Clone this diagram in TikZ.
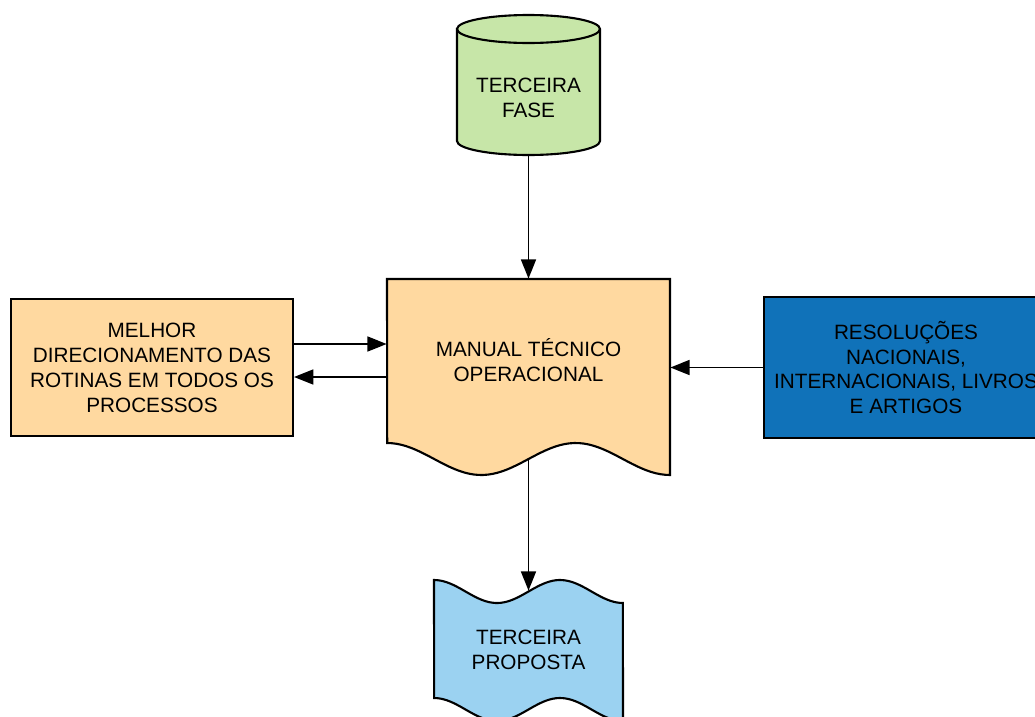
\documentclass[tikz,border=0pt]{standalone}
\usepackage{fontspec}
\setmainfont{Liberation Sans}
\usetikzlibrary{arrows.meta}

\definecolor{verde}{RGB}{199,230,168}
\definecolor{laranja}{RGB}{255,217,160}
\definecolor{azul}{RGB}{16,114,185}
\definecolor{azulclaro}{RGB}{155,210,241}

\begin{document}
\begin{tikzpicture}[x=0.02cm, y=-0.02cm,
    forma/.style={draw=black, line width=1.2pt},
    texto/.style={align=center, inner sep=0pt, text=black,
      font=\fontsize{11.8}{14.2}\selectfont},
    caixa/.style={forma, texto},
    seta/.style={-{Triangle[length=11pt,width=8.5pt]}, line width=1.1pt}]
  \useasboundingbox (0,0) rectangle (1035,717);
  \clip (0,0) rectangle (1035,717);

  % cylinder
  \draw[forma, fill=verde] (457,29) -- (457,141)
    arc[start angle=180, end angle=360, x radius=1.43cm, y radius=0.28cm]
    -- (600,29)
    arc[start angle=0, end angle=180, x radius=1.43cm, y radius=0.28cm] -- cycle;
  \draw[forma] (457,29)
    arc[start angle=180, end angle=360, x radius=1.43cm, y radius=0.28cm];

  % document with wavy bottom
  \draw[forma, fill=laranja] (387,279) -- (670,279) -- (670,475)
    -- plot[domain=1:0, samples=60] ({387+283*\x}, {443+16*(1-cos(540*\x))})
    -- cycle;

  % tape
  \draw[forma, fill=azulclaro]
    plot[domain=0:1, samples=60] ({434+189*\x}, {580+11.5*(1-cos(540*\x))})
    -- plot[domain=1:0, samples=60] ({434+189*\x}, {698+11.5*(1-cos(540*\x))})
    -- cycle;

  \node[texto, minimum width=2.86cm, minimum height=2.28cm] (fase) at (528.5,98)
    {TERCEIRA\\FASE};
  \node[texto, minimum width=5.66cm, minimum height=3.24cm] (manual) at (528.5,360)
    {MANUAL TÉCNICO\\OPERACIONAL};
  \coordinate (manualbase) at (528.5,459);
  \node[texto, minimum width=3.78cm, minimum height=2.36cm] (proposta) at (528.5,650)
    {TERCEIRA\\PROPOSTA};

  \node[caixa, fill=laranja, minimum width=5.64cm, minimum height=2.74cm] (melhor)
    at (152,367.5) {MELHOR\\DIRECIONAMENTO DAS\\ROTINAS EM TODOS OS\\PROCESSOS};
  \node[caixa, fill=azul, minimum width=5.68cm, minimum height=2.82cm] (resol)
    at (906,367.5) {RESOLUÇÕES\\NACIONAIS,\\INTERNACIONAIS, LIVROS\\E ARTIGOS};

  \draw[seta] (fase.south) -- (manual.north);
  \draw[seta] (melhor.east |- 0,344) -- (manual.west |- 0,344);
  \draw[seta] (manual.west |- 0,377) -- (melhor.east |- 0,377);
  \draw[seta] (resol.west) -- (manual.east |- resol.west);
  \draw[seta] (manualbase) -- (proposta.north);
\end{tikzpicture}
\end{document}
